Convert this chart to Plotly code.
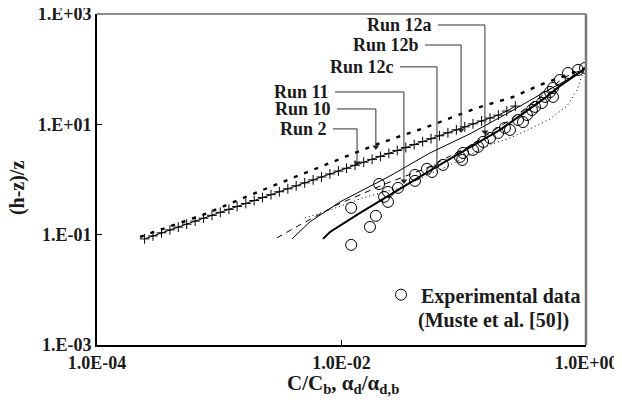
import math
import plotly.graph_objects as go

# ---------------- data ----------------
run2_x = [2.45e-4, 2.87e-4, 3.37e-4, 3.95e-4, 4.62e-4, 5.42e-4, 6.35e-4, 7.44e-4, 8.72e-4,
          1.02e-3, 1.20e-3, 1.40e-3, 1.65e-3, 1.93e-3, 2.26e-3, 2.65e-3, 3.10e-3, 3.64e-3,
          4.26e-3, 5.00e-3, 5.86e-3, 6.86e-3, 8.04e-3, 9.43e-3, 1.10e-2, 1.29e-2, 1.52e-2,
          1.78e-2, 2.08e-2, 2.44e-2, 2.86e-2, 3.36e-2, 3.93e-2, 4.61e-2, 5.40e-2, 6.33e-2,
          7.42e-2, 8.70e-2, 0.102, 0.119, 0.140, 0.164, 0.192, 0.225, 0.264]
run2_y = [0.0839, 0.0949, 0.108, 0.122, 0.137, 0.155, 0.176, 0.199, 0.224,
          0.254, 0.288, 0.324, 0.368, 0.416, 0.470, 0.531, 0.600, 0.679,
          0.769, 0.869, 0.984, 1.11, 1.26, 1.42, 1.60, 1.81, 2.06,
          2.32, 2.62, 2.97, 3.36, 3.80, 4.30, 4.86, 5.50, 6.21,
          7.03, 7.96, 9.01, 10.2, 11.5, 13.0, 14.7, 17.4, 21.4]

run10_x = [2.25e-4, 7.36e-4, 2.28e-3, 4.84e-3, 0.0188, 0.0500, 0.128, 0.253, 0.421, 1.0]
run10_y = [0.0912, 0.229, 0.649, 1.26, 4.24, 8.97, 19.8, 31.3, 51.8, 105]

run11_x = [5.02e-3, 8.05e-3, 0.0150, 0.0301, 0.0773, 0.164, 0.239, 0.348, 0.508, 0.700, 0.845, 0.944, 1.0]
run11_y = [0.201, 0.281, 0.465, 0.705, 1.84, 4.24, 5.68, 8.26, 12.5, 21.5, 42.0, 85.3, 105]

run12a_x = [2.96e-3, 4.58e-3, 9.18e-3, 0.0227, 0.0500, 0.112, 0.239, 0.397, 0.649, 1.0]
run12a_y = [0.0875, 0.151, 0.347, 0.832, 1.62, 4.06, 12.0, 27.7, 69.3, 105]

run12b_x = [3.94e-3, 5.52e-3, 9.73e-3, 0.0249, 0.0530, 0.112, 0.239, 0.445, 0.700, 1.0]
run12b_y = [0.0839, 0.171, 0.393, 1.16, 3.03, 6.70, 16.8, 37.1, 63.7, 105]

run12c_x = [7.06e-3, 8.05e-3, 0.0142, 0.0290, 0.0615, 0.198, 0.462, 0.612, 1.0]
run12c_y = [0.0839, 0.112, 0.248, 0.649, 1.76, 7.94, 30.1, 49.7, 105]

exp_x = [0.0120, 0.0171, 0.0191, 0.0120, 0.0203, 0.0240, 0.0223, 0.0240, 0.0290, 0.0399,
         0.0399, 0.0500, 0.0550, 0.0676, 0.0931, 0.0986, 0.119, 0.131, 0.144, 0.164,
         0.191, 0.217, 0.239, 0.278, 0.305, 0.329, 0.361, 0.383, 0.436, 0.462,
         0.508, 0.537, 0.537, 0.612, 0.713, 0.861, 0.980, 0.097]
exp_y = [0.0653, 0.138, 0.219, 0.306, 0.83, 0.596, 0.484, 0.393, 0.705, 1.21,
         0.944, 1.56, 1.37, 1.84, 2.56, 3.03, 3.44, 3.90, 4.80, 5.67,
         6.99, 8.61, 7.92, 12.0, 11.0, 14.8, 18.2, 20.7, 24.4, 31.4,
         38.6, 45.6, 31.4, 63.7, 85.3, 96.8, 105, 2.26]

x_tickvals = [1e-4, 1e-2, 1.0]
x_ticktext = ["1.0E-04", "1.0E-02", "1.0E+00"]
y_tickvals = [1e-3, 1e-1, 1e1, 1e3]
y_ticktext = ["1.E-03", "1.E-01", "1.E+01", "1.E+03"]

# label name, leader start x, corner x, label y, arrow tip y
run_labels = ["Run 12a", "Run 12b", "Run 12c", "Run 11", "Run 10", "Run 2"]
label_start_x = [0.0615, 0.0482, 0.0301, 0.00885, 0.00918, 0.00851]
label_corner_x = [0.149, 0.0951, 0.0604, 0.0324, 0.0191, 0.0134]
label_y = [632, 274, 110, 38.6, 19.0, 8.26]
label_tip_y = [7.28, 7.93, 1.76, 0.944, 3.90, 2.0]

# ---------------- figure ----------------
SERIF = "Liberation Serif, Times New Roman, serif"
INK = "#1a1a1a"
fig = go.Figure()

fig.add_trace(go.Scatter(x=run10_x, y=run10_y, mode="lines", showlegend=False,
                         line=dict(color="black", width=2.4, dash="4px,7px")))
fig.add_trace(go.Scatter(x=run12a_x, y=run12a_y, mode="lines", showlegend=False,
                         line=dict(color="black", width=1, dash="6px,5px")))
fig.add_trace(go.Scatter(x=run11_x, y=run11_y, mode="lines", showlegend=False,
                         line=dict(color="black", width=1, dash="1px,3px")))
fig.add_trace(go.Scatter(x=run12b_x, y=run12b_y, mode="lines", showlegend=False,
                         line=dict(color="black", width=1)))
fig.add_trace(go.Scatter(x=run12c_x, y=run12c_y, mode="lines", showlegend=False,
                         line=dict(color="black", width=2)))
fig.add_trace(go.Scatter(x=run2_x, y=run2_y, mode="lines+markers", showlegend=False,
                         line=dict(color="black", width=1),
                         marker=dict(symbol="cross-thin", size=7,
                                     line=dict(color="black", width=1))))
fig.add_trace(go.Scatter(x=exp_x, y=exp_y, mode="markers", name="<b>Experimental data</b>",
                         marker=dict(symbol="circle-open", size=11, color="black",
                                     line=dict(color="black", width=1))))

# leader lines with arrow heads
for name, sx, cx, ly, ty in zip(run_labels, label_start_x, label_corner_x, label_y, label_tip_y):
    fig.add_trace(go.Scatter(x=[sx, cx, cx], y=[ly, ly, ty], mode="lines", showlegend=False,
                             line=dict(color="#333333", width=1), hoverinfo="skip"))
    fig.add_trace(go.Scatter(x=[cx], y=[ty], mode="markers", showlegend=False,
                             marker=dict(symbol="triangle-down", size=6, color="#222222"),
                             hoverinfo="skip"))
    fig.add_annotation(x=math.log10(sx), y=math.log10(ly), xref="x", yref="y",
                       text="<b>" + name + "</b>", showarrow=False, xanchor="right", yanchor="middle",
                       xshift=-4, font=dict(family=SERIF, size=18, color=INK))

fig.add_annotation(x=0.969, y=0.075, xref="paper", yref="paper", xanchor="right", yanchor="middle",
                   text="<b>(Muste et al. [50])</b>", showarrow=False,
                   font=dict(family=SERIF, size=20, color=INK))

# axis titles
fig.add_annotation(x=0.503, y=0, xref="paper", yref="paper", xanchor="center", yanchor="middle",
                   yshift=-39, showarrow=False,
                   text="<b>C/C<sub>b</sub>, α<sub>d</sub>/α<sub>d,b</sub></b>",
                   font=dict(family=SERIF, size=21, color=INK))
fig.add_annotation(x=0, y=0.474, xref="paper", yref="paper", xanchor="center", yanchor="middle",
                   xshift=-80, showarrow=False, textangle=-90,
                   text="<b>(h-z)/z</b>", font=dict(family=SERIF, size=20, color=INK))

# top / right frame lines
fig.add_shape(type="line", xref="paper", yref="paper", x0=0, x1=1, y0=1, y1=1,
              line=dict(color="#666666", width=1.5))
fig.add_shape(type="line", xref="paper", yref="paper", x0=1, x1=1, y0=0, y1=1,
              line=dict(color="#777777", width=2.5))

# the page body adds an 8 px offset, so the figure is 8 px smaller than the window
fig.update_layout(
    width=614, height=397,
    margin=dict(l=89, r=36, t=6, b=60, autoexpand=False),
    paper_bgcolor="white", plot_bgcolor="white",
    font=dict(family=SERIF, size=18, color=INK),
    legend=dict(x=1.0, y=0.152, xanchor="right", yanchor="middle",
                bgcolor="rgba(0,0,0,0)", itemwidth=30, tracegroupgap=0,
                font=dict(family=SERIF, size=20, color=INK)),
    showlegend=True,
    xaxis=dict(type="log", range=[-4, 0], showgrid=False, zeroline=False, automargin=False,
               showline=True, linecolor="black", linewidth=2, ticklabeloverflow="allow",
               ticks="inside", ticklen=5, tickcolor="black", tickwidth=1,
               tickvals=x_tickvals, ticktext=["<b>" + t + "</b>" for t in x_ticktext],
               tickfont=dict(family=SERIF, size=18, color=INK)),
    yaxis=dict(type="log", range=[-3, 3], showgrid=False, zeroline=False, automargin=False,
               showline=True, linecolor="black", linewidth=2, ticklabeloverflow="allow",
               ticks="inside", ticklen=5, tickcolor="black", tickwidth=1,
               tickvals=y_tickvals, ticktext=["<b>" + t + "</b>" for t in y_ticktext],
               tickfont=dict(family=SERIF, size=18, color=INK)),
)

fig.write_html("out.html")
